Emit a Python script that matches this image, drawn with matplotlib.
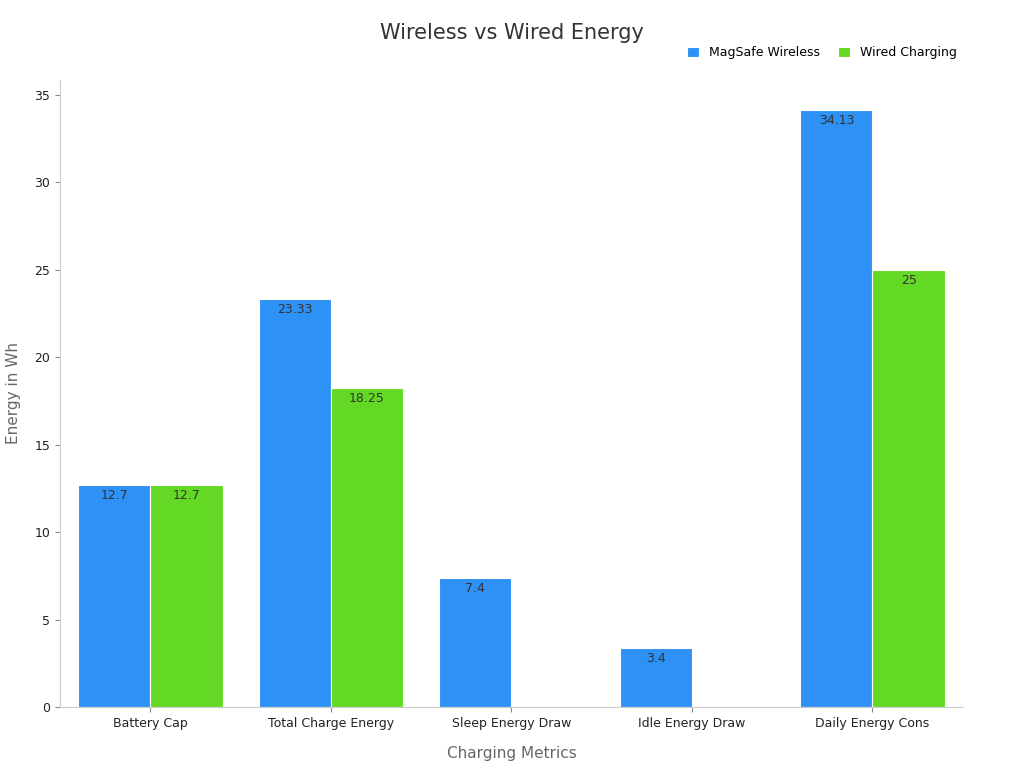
import matplotlib
matplotlib.use("Agg")
import matplotlib.pyplot as plt
import numpy as np

categories = ["Battery Cap", "Total Charge Energy", "Sleep Energy Draw", "Idle Energy Draw", "Daily Energy Cons"]
wireless = [12.7, 23.33, 7.4, 3.4, 34.13]
wired = [12.7, 18.25, 0, 0, 25]
series_names = ["MagSafe Wireless", "Wired Charging"]
colors = ["#2d91f5", "#64d925"]

fig = plt.figure(figsize=(10.24, 7.68), dpi=100)
ax = fig.add_axes([0.0586, 0.0794, 0.8816, 0.8166])
x = np.arange(len(categories))
w = 0.4
for vals, off, c, name in [(wireless, -w/2, colors[0], series_names[0]), (wired, w/2, colors[1], series_names[1])]:
    bars = ax.bar(x + off, vals, w, color=c, edgecolor="white", linewidth=0.8, label=name)
    for b, v in zip(bars, vals):
        if v > 0:
            ax.text(b.get_x() + b.get_width()/2, v - 0.25, f"{v:g}", ha="center", va="top", fontsize=9, color="#333333")

ax.set_xlim(-0.5, 4.5)
ax.set_ylim(0, 35.86)
ax.set_yticks(range(0, 36, 5))
ax.set_xticks(x)
ax.set_xticklabels(categories, fontsize=9, color="#222222")
ax.tick_params(axis="y", labelsize=9, colors="#222222")
ax.tick_params(axis="both", color="#888888")
for s in ["top", "right"]:
    ax.spines[s].set_visible(False)
for s in ["left", "bottom"]:
    ax.spines[s].set_color("#cccccc")
ax.set_xlabel("Charging Metrics", fontsize=11, color="#666666", labelpad=12)
ax.set_ylabel("Energy in Wh", fontsize=11, color="#666666", labelpad=10)
fig.text(0.5, 0.957, "Wireless vs Wired Energy", ha="center", va="center", fontsize=15, color="#333333")
fig.legend(loc="center right", bbox_to_anchor=(0.945, 0.931), ncol=2, frameon=False, fontsize=9,
           handlelength=0.9, handleheight=0.9, columnspacing=1.5)
fig.savefig("out.png", dpi=100)
